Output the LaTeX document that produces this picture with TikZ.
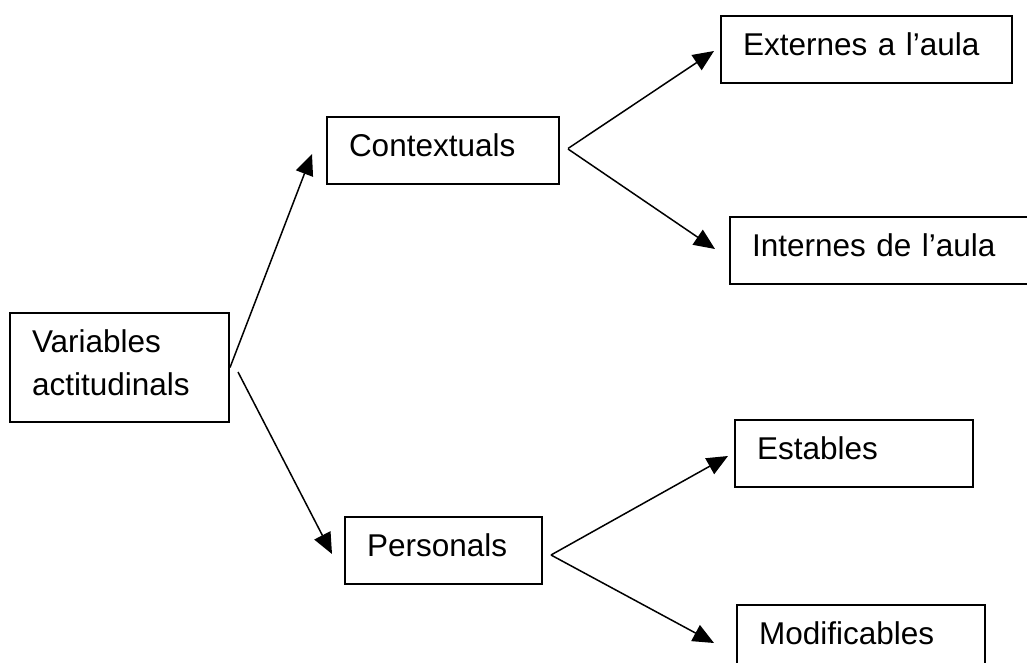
\documentclass[tikz,border=0pt]{standalone}
\usepackage{fontspec}
\setmainfont{Liberation Sans}
\usetikzlibrary{arrows.meta}

\tikzset{
  box/.style={draw, line width=2pt, anchor=north west, inner xsep=22pt, inner ysep=0pt,
    align=left, minimum height=67pt, text height=22.5pt, text depth=10.5pt,
    font=\fontsize{31.5pt}{43pt}\selectfont},
  arr/.style={-{Triangle[length=21pt,width=18pt]}, line width=1.5pt}
}

\begin{document}
\begin{tikzpicture}[x=1pt, y=-1pt]
        \useasboundingbox (0,0) rectangle (1027,663);
        \clip (0,0) rectangle (1027,663);
        % root and first level
        \node[box, text width=175pt, minimum height=109pt, text depth=52pt] (var) at (9,312) {Variables\\actitudinals};
        \node[box, text width=188pt] (ctx) at (326,116) {Contextuals};
        \node[box, text width=153pt] (per) at (344,516) {Personals};
        % second level
        \node[box, text width=247pt] (ext) at (720,15) {Externes a l’aula};
        \node[box, text width=266pt] (int) at (729,216) {Internes de l’aula};
        \node[box, text width=194pt] (est) at (734,419) {Estables};
        \node[box, text width=204pt] (mod) at (736,604) {Modificables};
        % arrows from the root
        \draw[arr] (var.east) -- ([xshift=-14pt, yshift=-3.5pt]ctx.west);
        \draw[arr] ([xshift=8pt, yshift=-4.5pt]var.east) -- ([xshift=-12pt, yshift=-3.5pt]per.west);
        % arrows from contextuals
        \draw[arr] ([xshift=8pt, yshift=2pt]ctx.east) -- ([xshift=-6pt, yshift=-1.5pt]ext.west);
        \draw[arr] ([xshift=8pt, yshift=1.5pt]ctx.east) -- ([xshift=-14pt, yshift=1.5pt]int.west);
        % arrows from personals
        \draw[arr] ([xshift=8pt, yshift=-4.5pt]per.east) -- ([xshift=-6pt, yshift=-2.5pt]est.west);
        \draw[arr] ([xshift=8pt, yshift=-4.5pt]per.east) -- ([xshift=-22pt, yshift=-4.5pt]mod.west);
\end{tikzpicture}
\end{document}
